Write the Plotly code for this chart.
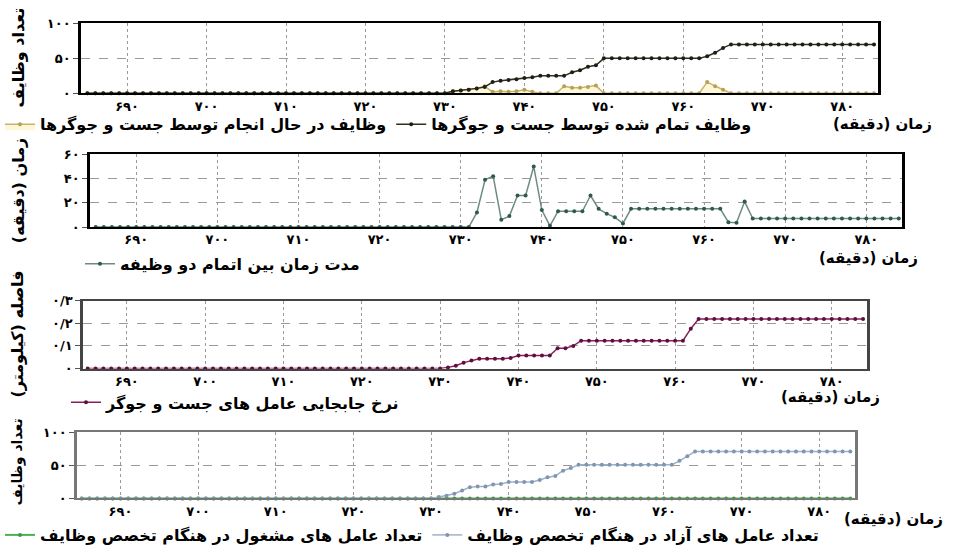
import plotly.graph_objects as go

# ---------------- data ----------------
minutes = list(range(685, 785))

x_tick_vals = [690, 700, 710, 720, 730, 740, 750, 760, 770, 780]
x_tick_text = ["۶۹۰", "۷۰۰", "۷۱۰", "۷۲۰", "۷۳۰", "۷۴۰", "۷۵۰", "۷۶۰", "۷۷۰", "۷۸۰"]

tasks_in_progress = ([0] * 46
                     + [3, 4, 5, 7, 10, 2, 3, 2, 3, 5, 2, 0, 0, 0, 10, 8, 8, 9, 11, 0]
                     + [0] * 12 + [16, 10, 5] + [0] * 19)
tasks_completed = ([0] * 46
                   + [3, 4, 5, 7, 9, 16, 18, 19, 20, 22, 23, 25, 25, 25, 25, 30, 33, 38, 40, 50]
                   + [50] * 12 + [53, 58, 65] + [70] * 19)

duration_between = ([0] * 47
                    + [12, 39, 42, 6, 9, 26, 26, 50, 14, 1, 13, 13, 13, 13, 26, 15, 11, 8, 3]
                    + [15] * 12 + [4, 3.5, 21] + [7] * 19)

distance_km = ([0] * 46
               + [0.005, 0.012, 0.026, 0.035, 0.043, 0.043, 0.043, 0.043, 0.047,
                  0.057, 0.057, 0.057, 0.057, 0.057, 0.09, 0.09, 0.1, 0.123]
               + [0.123] * 13 + [0.176, 0.219] + [0.219] * 21)

free_agents = ([0] * 46
               + [2, 4, 7, 12, 17, 18, 18, 21, 22, 25, 25, 25, 25, 28, 32, 34, 42, 46, 51]
               + [51] * 12 + [57, 64] + [71] * 21)
busy_agents = [0] * 100

y1_vals, y1_text = [0, 50, 100], ["۰", "۵۰", "۱۰۰"]
y2_vals, y2_text = [0, 20, 40, 60], ["۰", "۲۰", "۴۰", "۶۰"]
y3_vals, y3_text = [0, 0.1, 0.2, 0.3], ["۰", "۰/۱", "۰/۲", "۰/۳"]
y4_vals, y4_text = [0, 50, 100], ["۰", "۵۰", "۱۰۰"]

name_in_progress = "وظایف در حال انجام توسط جست و جوگرها"
name_completed = "وظایف تمام شده توسط جست و جوگرها"
name_duration = "مدت زمان بین اتمام دو وظیفه"
name_distance = "نرخ جابجایی عامل های جست و جوگر"
name_busy = "تعداد عامل های مشغول در هنگام تخصص وظایف"
name_free = "تعداد عامل های آزاد در هنگام تخصص وظایف"
x_title = "زمان (دقیقه)"
y1_title = "تعداد وظایف"
y2_title = "زمان (دقیقه)"
y3_title = "فاصله (کیلومتر)"
y4_title = "تعداد وظایف"

# ---------------- figure ----------------
W, H = 955, 552
FONT = "DejaVu Sans"

def px_x(a, b):
    return [a / W, b / W]

def px_y(top, bottom):
    return [1 - bottom / H, 1 - top / H]

fig = go.Figure()

def line(x, y, name, color, mcolor, xa, ya, legend, width=1.5, fill=None, fillcolor=None):
    fig.add_trace(go.Scatter(
        x=x, y=y, name=name, mode="lines+markers",
        line=dict(color=color, width=width),
        marker=dict(color=mcolor, size=4),
        xaxis=xa, yaxis=ya, legend=legend,
        fill=fill, fillcolor=fillcolor, cliponaxis=False,
    ))

line(minutes, tasks_in_progress, name_in_progress, "#c9b46e", "#b8a050", "x", "y", "legend",
     fill="tozeroy", fillcolor="rgba(250,242,190,0.6)")
line(minutes, tasks_completed, name_completed, "#2f2f22", "#1e1e14", "x", "y", "legend")
line(minutes, duration_between, name_duration, "#6f8c84", "#2e5a4e", "x2", "y2", "legend2")
line(minutes, distance_km, name_distance, "#8a1f5c", "#5e0f3c", "x3", "y3", "legend3")
line(minutes, busy_agents, name_busy, "#4caf50", "#3e9a42", "x4", "y4", "legend4", width=2)
line(minutes, free_agents, name_free, "#9db2c9", "#7f96b0", "x4", "y4", "legend4")

tickfont = dict(family=FONT, size=13, color="black", weight="bold")

panels = [
    ("xaxis", "yaxis", (81, 878), (17, 89), [684.2, 784.5], [0, 100], y1_vals, y1_text, "black"),
    ("xaxis2", "yaxis2", (90, 902), (152, 227), [684.3, 784.4], [0, 60], y2_vals, y2_text, "black"),
    ("xaxis3", "yaxis3", (83, 867), (303, 373), [684.4, 784.5], [0, 0.3], y3_vals, y3_text, "#444"),
    ("xaxis4", "yaxis4", (77, 855), (439, 507), [684.4, 784.6], [0, 100], y4_vals, y4_text, "#777"),
]

layout_axes = {}
for i, (xk, yk, xp, yp, xr, yr, yv, yt, lc) in enumerate(panels):
    anchor_x = "y" if i == 0 else f"y{i+1}"
    anchor_y = "x" if i == 0 else f"x{i+1}"
    layout_axes[xk] = dict(
        domain=px_x(*xp), range=xr, anchor=anchor_x,
        tickvals=x_tick_vals, ticktext=x_tick_text, tickfont=tickfont,
        showgrid=True, gridcolor="#9a9a9a", griddash="dot", gridwidth=1,
        showline=True, linecolor=lc, linewidth=1.5, mirror=True,
        ticks="", zeroline=False, fixedrange=True,
    )
    layout_axes[yk] = dict(
        domain=px_y(*yp), range=yr, anchor=anchor_y,
        tickvals=yv, ticktext=yt, tickfont=tickfont,
        showgrid=True, gridcolor="#9a9a9a", griddash="dash", gridwidth=1,
        showline=True, linecolor=lc, linewidth=2.5, mirror=True,
        ticks="outside", ticklen=5, tickcolor="#555", zeroline=False, fixedrange=True,
    )

legend_font = dict(family=FONT, size=16, color="black", weight="bold")
title_font = dict(family=FONT, size=15, color="black", weight="bold")

def legend_at(x_px, y_px):
    return dict(orientation="h", x=x_px / W, y=1 - y_px / H, xanchor="left", yanchor="middle",
                font=legend_font, bgcolor="rgba(0,0,0,0)", itemwidth=30,
                tracegroupgap=0)

fig.update_layout(
    width=W, height=H,
    margin=dict(l=0, r=0, t=0, b=0),
    paper_bgcolor="white", plot_bgcolor="white",
    showlegend=True,
    legend=legend_at(0, 121),
    legend2=legend_at(80, 265),
    legend3=legend_at(66, 408),
    legend4=legend_at(0, 545),
    **layout_axes,
)

annotations = []
for (xc, yc) in [(882, 121), (868, 259), (830, 402), (893, 528)]:
    annotations.append(dict(text=x_title, x=xc / W, y=1 - yc / H, xref="paper", yref="paper",
                            showarrow=False, font=title_font, xanchor="center", yanchor="middle"))
for (title, xc, yc, fs) in [(y1_title, 18, 52, 16), (y2_title, 18, 190, 16),
                            (y3_title, 18, 338, 16), (y4_title, 18, 470, 14)]:
    annotations.append(dict(text=title, x=xc / W, y=1 - yc / H, xref="paper", yref="paper",
                            showarrow=False, textangle=-90, font=dict(title_font, size=fs),
                            xanchor="center", yanchor="middle"))
fig.update_layout(annotations=annotations)

fig.write_html("out.html", config={"displayModeBar": False},
               post_script="document.body.style.margin='0';")
